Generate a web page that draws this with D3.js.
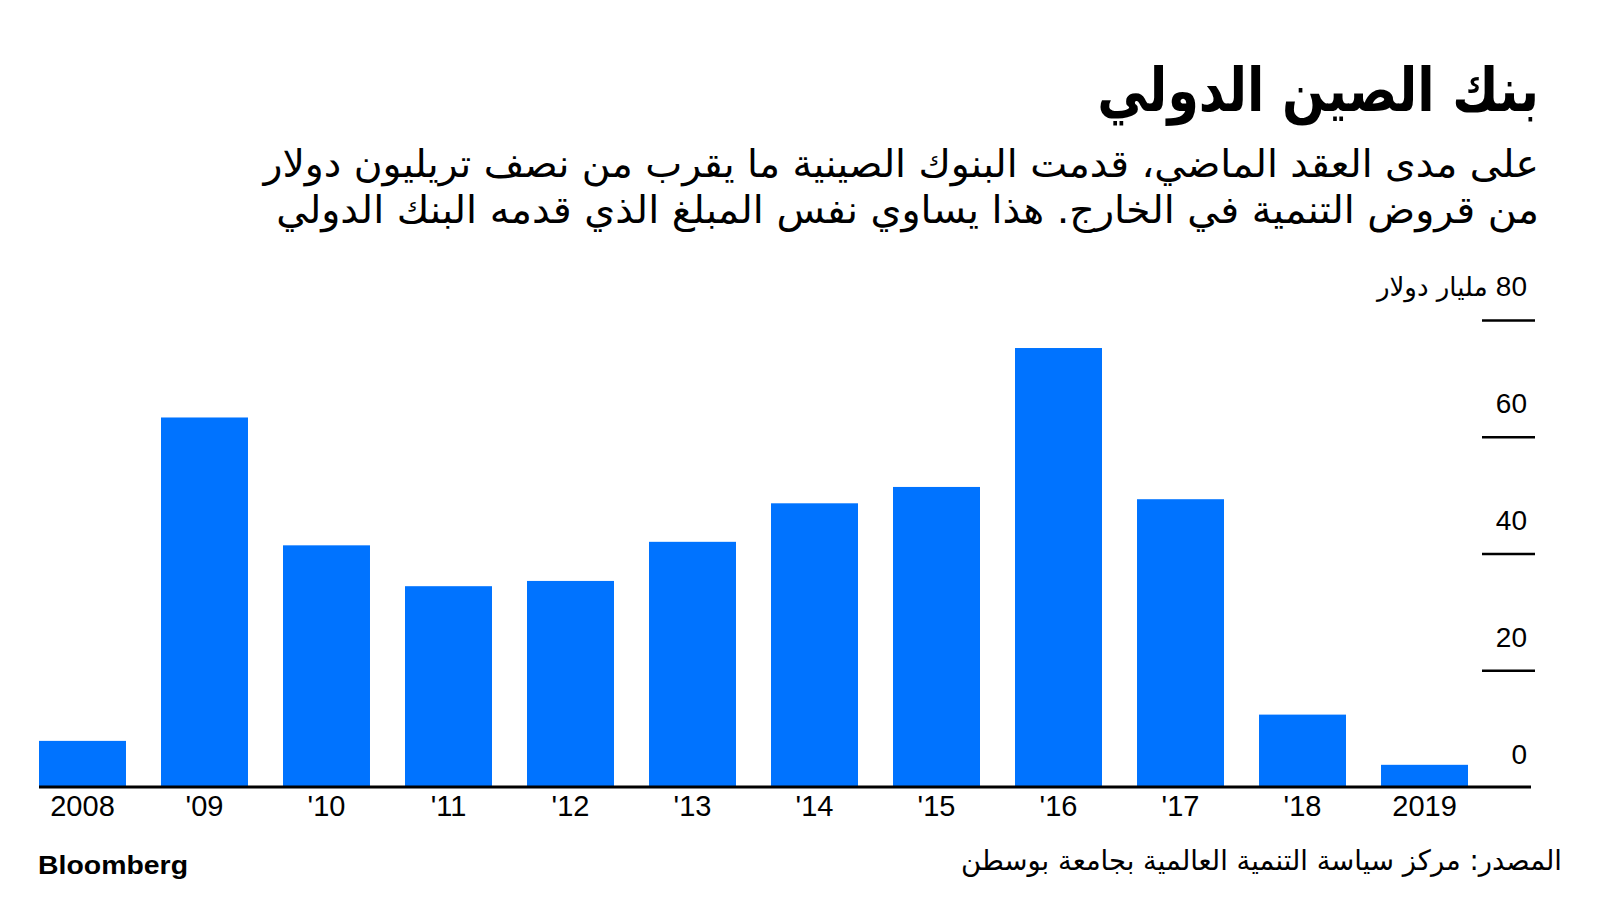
<!DOCTYPE html>
<html>
<head>
<meta charset="utf-8">
<script src="https://cdn.jsdelivr.net/npm/d3@7"></script>
<style>
  html, body { margin: 0; padding: 0; background: #ffffff; }
  svg { display: block; }
</style>
</head>
<body>
<svg id="chart" width="1600" height="900"></svg>
<script>
// ---- data ----
const years = ["2008", "'09", "'10", "'11", "'12", "'13", "'14", "'15", "'16", "'17", "'18", "2019"];
const loans = [7.9, 63.3, 41.4, 34.4, 35.3, 42.0, 48.6, 51.4, 75.2, 49.3, 12.4, 3.8];
const yTicks = [0, 20, 40, 60, 80];
const yUnit = "مليار دولار";
const titleText = "بنك الصين الدولي";
const subtitleLines = [
  "على مدى العقد الماضي، قدمت البنوك الصينية ما يقرب من نصف تريليون دولار",
  "من قروض التنمية في الخارج. هذا يساوي نفس المبلغ الذي قدمه البنك الدولي"
];
const sourceText = "المصدر: مركز سياسة التنمية العالمية بجامعة بوسطن";
const brandText = "Bloomberg";

// ---- drawing ----
const svg = d3.select("#chart");
const arabicFont = "'DejaVu Sans', sans-serif";
const latinFont = "'Liberation Sans', Arial, sans-serif";

const x = d3.scaleBand().domain(years).range([39, 1468]).paddingInner(0.287).paddingOuter(0);
const y = d3.scaleLinear().domain([0, 80]).range([787, 320]);

// right-anchored RTL text, horizontally fitted to a target width via a scale transform
function fittedRtl(text, xr, yb, size, weight, width) {
  const t = svg.append("text")
    .attr("direction", "rtl").attr("text-anchor", "start")
    .attr("font-family", arabicFont).attr("font-weight", weight).attr("font-size", size)
    .attr("fill", "#000")
    .text(text);
  const len = t.node().getComputedTextLength();
  const s = len > 0 ? width / len : 1;
  t.attr("transform", `translate(${xr},${yb}) scale(${s},1)`);
  return t;
}

// title
fittedRtl(titleText, 1539, 111, 60, "bold", 442);

// subtitle
const subWidths = [1276, 1263];
subtitleLines.forEach((t, i) => fittedRtl(t, 1539, 177 + i * 46, 38, "normal", subWidths[i]));

// bars
svg.append("g").selectAll("rect").data(loans).join("rect")
  .attr("x", (d, i) => x(years[i]))
  .attr("width", x.bandwidth())
  .attr("y", d => y(d))
  .attr("height", d => y(0) - y(d))
  .attr("fill", "#0073ff");

// y axis (right side)
const yAxis = d3.axisRight(y).tickValues(yTicks).tickSize(53).tickFormat(d3.format("d"));
const yg = svg.append("g").attr("transform", "translate(1482,0)").call(yAxis);
yg.select(".domain").remove();
yg.selectAll(".tick line").attr("stroke", "#000").attr("stroke-width", 2.5)
  .filter(d => d === 0).remove();
yg.selectAll(".tick text")
  .attr("x", 45).attr("dy", -24)
  .attr("text-anchor", "end")
  .attr("font-family", latinFont).attr("font-size", 28).attr("fill", "#000");
// unit next to the top tick value
yg.selectAll(".tick").filter(d => d === 80).select("text").remove();
yg.selectAll(".tick").filter(d => d === 80).append("text")
  .attr("x", 45).attr("dy", -25)
  .attr("direction", "rtl").attr("text-anchor", "start")
  .attr("fill", "#000")
  .call(t => {
    t.append("tspan").attr("font-family", latinFont).attr("font-size", 28).text("80");
    t.append("tspan").attr("font-family", arabicFont).attr("font-size", 26).text(" " + yUnit);
  });

// baseline
svg.append("line")
  .attr("x1", 39).attr("x2", 1531)
  .attr("y1", y(0)).attr("y2", y(0))
  .attr("stroke", "#000").attr("stroke-width", 3);

// x axis labels
const xAxis = d3.axisBottom(x).tickSize(0).tickPadding(0);
const xg = svg.append("g").attr("transform", `translate(0,${y(0)})`).call(xAxis);
xg.select(".domain").remove();
xg.selectAll(".tick text")
  .attr("y", 29).attr("dy", 0)
  .attr("font-family", latinFont).attr("font-size", 29).attr("fill", "#000");

// footer
svg.append("text")
  .attr("x", 38).attr("y", 874)
  .attr("font-family", latinFont).attr("font-weight", "bold").attr("font-size", 26)
  .attr("textLength", 150).attr("lengthAdjust", "spacingAndGlyphs")
  .attr("fill", "#000")
  .text(brandText);

fittedRtl(sourceText, 1562, 870, 28, "normal", 601);
</script>
</body>
</html>
